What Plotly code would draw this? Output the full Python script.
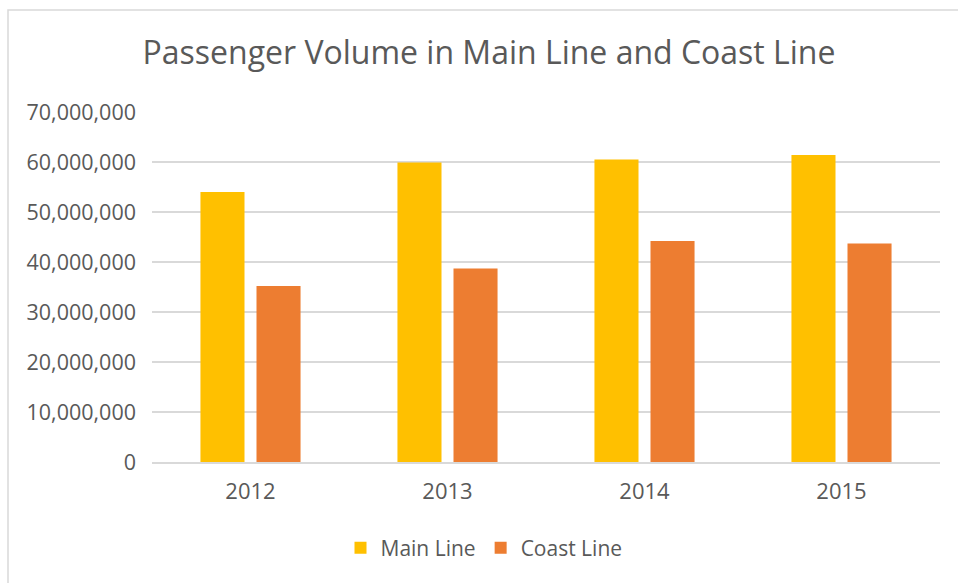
import plotly.graph_objects as go

years = ["2012", "2013", "2014", "2015"]
main_line = [54000000, 59900000, 60500000, 61400000]
coast_line = [35200000, 38700000, 44200000, 43700000]
y_ticks = [0, 10000000, 20000000, 30000000, 40000000, 50000000, 60000000, 70000000]
y_tick_labels = ["0", "10,000,000", "20,000,000", "30,000,000", "40,000,000",
                 "50,000,000", "60,000,000", "70,000,000"]

FONT = "Open Sans"
GREY = "#595959"

fig = go.Figure()
fig.add_trace(go.Bar(x=years, y=main_line, name="Main Line", marker_color="#FFC000",
                     marker_line_width=0))
fig.add_trace(go.Bar(x=years, y=coast_line, name="Coast Line", marker_color="#ED7D31",
                     marker_line_width=0))

W, H = 958, 583
L, R, T, B = 152, 18, 112, 121
pw, ph = W - L - R, H - T - B

def px_x(p):
    return (p - L) / pw

def px_y(p):
    return (H - B - p) / ph

fig.update_layout(
    width=W, height=H,
    margin=dict(l=L, r=R, t=T, b=B, autoexpand=False),
    paper_bgcolor="white", plot_bgcolor="white",
    barmode="group", bargap=0.431, bargroupgap=0.214,
    title=dict(text="Passenger Volume in Main Line and Coast Line",
               font=dict(family=FONT, size=32, color=GREY),
               xref="container", x=489 / W, xanchor="center",
               yref="container", y=1 - 53 / H, yanchor="middle"),
    font=dict(family=FONT, color=GREY, size=22),
    xaxis=dict(showgrid=False, showline=True, linecolor="#d9d9d9", linewidth=1.5,
               ticks="", tickfont=dict(family=FONT, size=22, color=GREY),
               ticklabelstandoff=9),
    yaxis=dict(range=[0, 70000000], tickvals=y_ticks, ticktext=y_tick_labels,
               showgrid=True, gridcolor="#d9d9d9", gridwidth=1.5,
               zeroline=False, showline=False, ticks="",
               tickfont=dict(family=FONT, size=21.5, color=GREY),
               ticklabelstandoff=15),
    legend=dict(orientation="h", xref="container", x=484 / W, xanchor="center",
                yref="container", y=1 - 548 / H, yanchor="middle",
                font=dict(family=FONT, size=21, color=GREY),
                bgcolor="rgba(0,0,0,0)",
                itemwidth=30, traceorder="normal"),
    showlegend=True,
)

fig.add_shape(type="rect", xref="paper", yref="paper",
              x0=px_x(8), x1=px_x(975), y0=px_y(600), y1=px_y(10),
              line=dict(color="#d9d9d9", width=1.5), fillcolor="rgba(0,0,0,0)",
              layer="below")

fig.write_html("out.html")
